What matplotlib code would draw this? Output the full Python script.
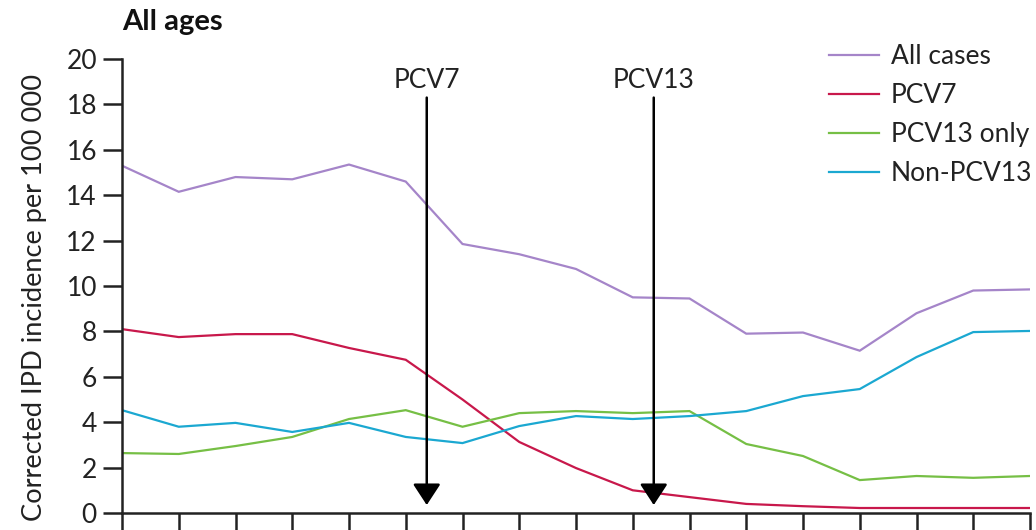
import matplotlib
matplotlib.use("Agg")
import matplotlib.pyplot as plt

plt.rcParams['font.family'] = ['Lato', 'DejaVu Sans']

# Epidemiological years (index positions along x)
years = list(range(17))

all_cases = [15.3, 14.15, 14.8, 14.7, 15.35, 14.6, 11.85, 11.4, 10.75, 9.5, 9.45,
             7.9, 7.95, 7.15, 8.8, 9.8, 9.85]
pcv7 = [8.1, 7.75, 7.88, 7.88, 7.27, 6.75, 5.0, 3.13, 1.98, 1.0, 0.7,
        0.4, 0.3, 0.22, 0.22, 0.22, 0.22]
pcv13_only = [2.64, 2.6, 2.95, 3.35, 4.14, 4.53, 3.8, 4.4, 4.49, 4.4, 4.49,
              3.04, 2.51, 1.45, 1.63, 1.55, 1.63]
non_pcv13 = [4.53, 3.8, 3.97, 3.57, 3.97, 3.35, 3.08, 3.83, 4.27, 4.14, 4.27,
             4.49, 5.15, 5.46, 6.87, 7.97, 8.02]

series_labels = ["All cases", "PCV7", "PCV13 only", "Non-PCV13"]
series_colors = ["#a585c9", "#c8184b", "#76bf45", "#1ba8d1"]

# Vaccine introduction markers
intro_labels = ["PCV7", "PCV13"]
intro_x = [5.37, 9.37]

yticks = [0, 2, 4, 6, 8, 10, 12, 14, 16, 18, 20]

fig = plt.figure(figsize=(10.36, 5.30), dpi=100)
ax = fig.add_axes([122/1036, 1 - 513/530, (1030 - 122)/1036, (513 - 59)/530])

for vals, lab, col in zip([all_cases, pcv7, pcv13_only, non_pcv13], series_labels, series_colors):
    ax.plot(years, vals, color=col, lw=1.6, label=lab, solid_joinstyle='miter')

ax.set_xlim(0, 16)
ax.set_ylim(0, 20)
ax.set_yticks(yticks)
ax.set_xticks(years)
ax.set_xticklabels([])
ax.tick_params(axis='y', direction='out', length=14, width=1.8, labelsize=19,
               colors='#222222', pad=4)
ax.tick_params(axis='x', direction='out', length=20, width=1.8, colors='#222222')
for s in ['top', 'right']:
    ax.spines[s].set_visible(False)
for s in ['left', 'bottom']:
    ax.spines[s].set_linewidth(1.8)
    ax.spines[s].set_color('#222222')
ax.set_ylabel("Corrected IPD incidence per 100 000", fontsize=19.6, color='#222222')
ax.yaxis.set_label_coords(-0.0826, 0.474)

for lab, xv in zip(intro_labels, intro_x):
    ax.annotate("", xy=(xv, 0.35), xytext=(xv, 18.3),
                arrowprops=dict(arrowstyle="-|>,head_length=1.3,head_width=0.85",
                                mutation_scale=10, lw=1.8, color='black',
                                shrinkA=0, shrinkB=0),
                annotation_clip=False)
    ax.text(xv, 19.05, lab, ha='center', va='center', fontsize=19, color='#222222')

leg = ax.legend(loc='upper left', bbox_to_anchor=((836 - 122)/908 - 0.008, 1.033),
                frameon=False, fontsize=19, handlelength=1.9, handletextpad=0.45,
                labelspacing=0.53, borderaxespad=0, borderpad=0)
for t in leg.get_texts():
    t.set_color('#222222')

fig.text(122/1036, 1 - 22/530, "All ages", fontsize=21, fontweight='bold',
         ha='left', va='center', color='#111111')

fig.savefig("out.png", dpi=100)
